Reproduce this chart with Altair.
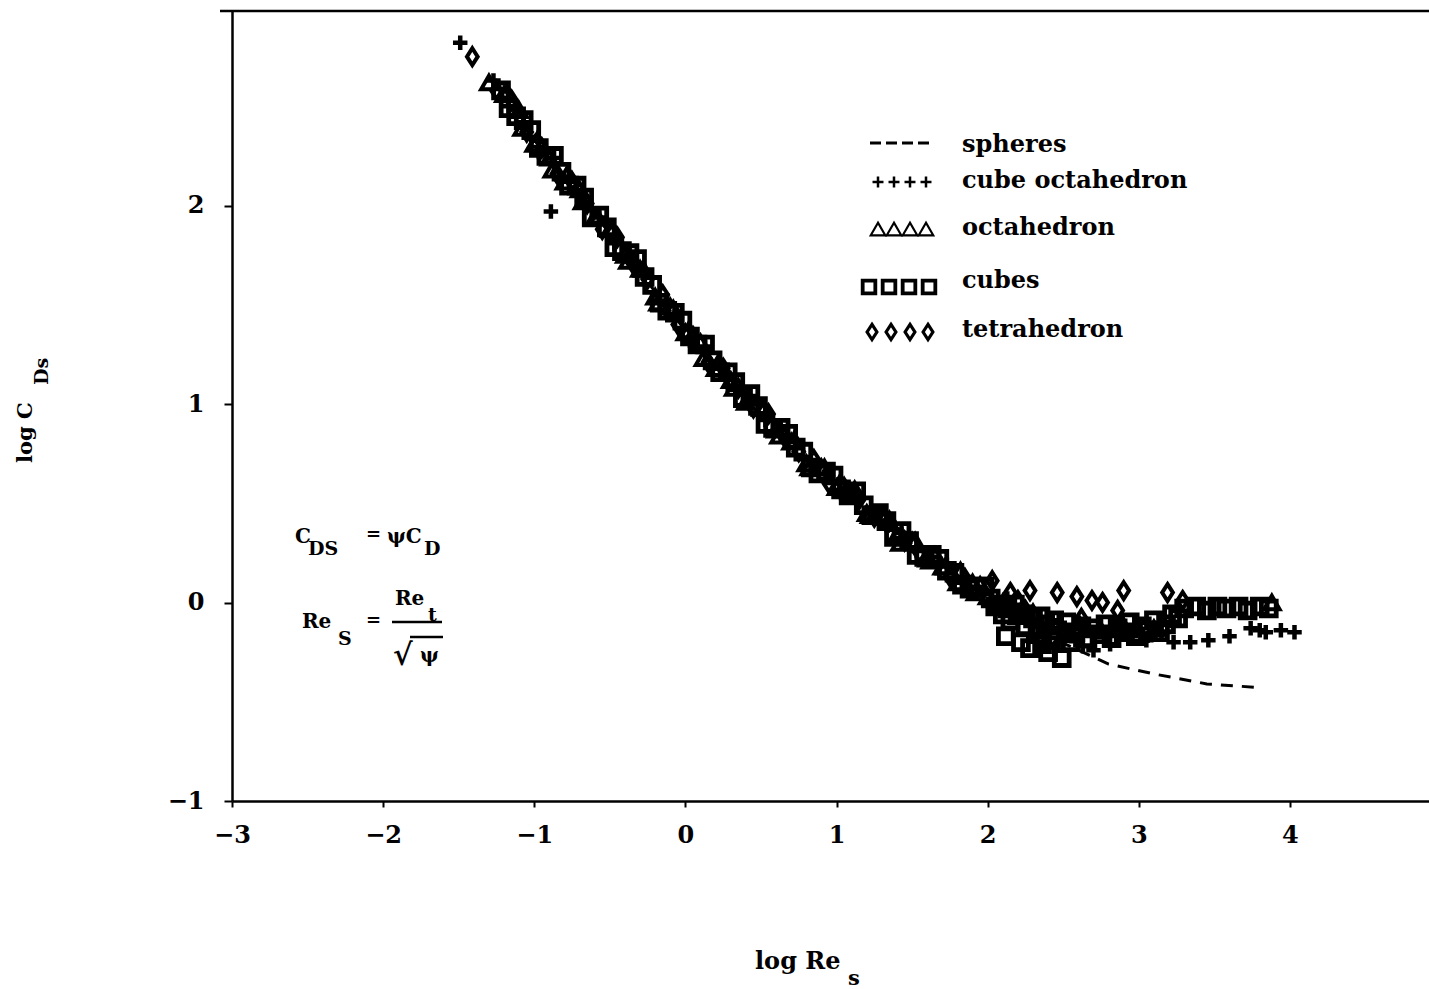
import altair as alt
import pandas as pd

FONT = "DejaVu Serif"

# log Re_s vs log C_Ds for each particle shape
cubeoct_x = [-1.49, -1.27, -1.17, -1.07, -0.97, -0.89, -0.87, -0.77, -0.67, -0.57,
             -0.47, -0.37, -0.27, -0.17, -0.07, 0.03, 0.13, 0.23, 0.33, 0.43,
             0.53, 0.63, 0.73, 0.83, 0.93, 1.03, 1.13, 1.23, 1.33, 1.43,
             1.53, 1.63, 1.73, 1.83, 1.93, 2.03, 2.13, 2.23, 2.33, 2.43,
             2.30, 2.38, 2.47, 2.58,
             2.55, 2.63, 2.70, 2.81, 2.95, 3.05, 3.15, 3.23, 3.34, 3.46,
             3.60, 3.74, 3.80, 3.84, 3.94, 4.03]
cubeoct_y = [2.82, 2.63, 2.50, 2.42, 2.27, 1.97, 2.24, 2.12, 2.02, 1.94,
             1.81, 1.75, 1.67, 1.52, 1.45, 1.32, 1.29, 1.18, 1.09, 1.04,
             0.92, 0.87, 0.81, 0.69, 0.65, 0.55, 0.55, 0.46, 0.39, 0.35,
             0.26, 0.23, 0.19, 0.10, 0.08, 0.00, 0.02, -0.05, -0.09, -0.09,
             -0.16, -0.20, -0.13, -0.19,
             -0.17, -0.22, -0.24, -0.21, -0.17, -0.19, -0.16, -0.20, -0.20, -0.19,
             -0.17, -0.13, -0.14, -0.15, -0.14, -0.15]

octa_x = [-1.30, -1.20, -1.10, -1.00, -0.90, -0.80, -0.70, -0.60, -0.50, -0.40,
          -0.30, -0.20, -0.10, 0.00, 0.10, 0.20, 0.30, 0.40, 0.50, 0.60,
          0.70, 0.80, 0.90, 1.00, 1.10, 1.20, 1.30, 1.40, 1.50, 1.60,
          1.70, 1.80, 1.90, 2.00, 2.10, 2.20, 2.30,
          -1.18, -1.08, -0.98, -0.88, -0.78, -0.68, -0.58, -0.48, -0.38, -0.28,
          -0.18, -0.08, 0.02, 0.12, 0.22, 0.32, 0.42, 0.52, 0.62, 0.72,
          0.82, 0.92, 1.02, 1.12, 1.22, 1.32, 1.42, 1.52, 1.62, 1.72,
          1.82, 1.92,
          2.40, 2.50, 2.60, 2.75, 2.90, 3.00, 3.10, 3.88]
octa_y = [2.62, 2.56, 2.48, 2.31, 2.24, 2.12, 2.08, 1.94, 1.88, 1.75,
          1.68, 1.54, 1.49, 1.36, 1.31, 1.18, 1.12, 1.01, 0.98, 0.87,
          0.81, 0.70, 0.68, 0.58, 0.54, 0.45, 0.44, 0.34, 0.31, 0.22,
          0.18, 0.10, 0.10, 0.03, 0.00, -0.07, -0.05,
          2.57, 2.39, 2.33, 2.18, 2.16, 2.02, 1.94, 1.88, 1.72, 1.68,
          1.51, 1.48, 1.37, 1.23, 1.21, 1.08, 1.03, 0.98, 0.84, 0.82,
          0.68, 0.68, 0.60, 0.57, 0.44, 0.43, 0.30, 0.31, 0.21, 0.18,
          0.16, 0.05,
          -0.12, -0.16, -0.10, -0.14, -0.12, -0.16, -0.13, 0.00]

cube_x = [-1.22, -1.12, -1.02, -0.92, -0.82, -0.72, -0.62, -0.52, -0.42, -0.32,
          -0.22, -0.12, -0.02, 0.08, 0.18, 0.28, 0.38, 0.48, 0.58, 0.68,
          0.78, 0.88, 0.98, 1.08, 1.18, 1.28, 1.38, 1.48, 1.58, 1.68,
          1.78, 1.88, 1.98,
          -1.17, -1.07, -0.97, -0.87, -0.77, -0.67, -0.57, -0.47, -0.37, -0.27,
          -0.17, -0.07, 0.03, 0.13, 0.23, 0.33, 0.43, 0.53, 0.63, 0.73,
          0.83, 0.93, 1.03, 1.13, 1.23, 1.33, 1.43, 1.53, 1.63, 1.73,
          1.83, 1.93,
          2.02, 2.07, 2.13, 2.18, 2.24, 2.35, 2.44,
          2.05, 2.10, 2.12, 2.15, 2.20, 2.22, 2.25, 2.28, 2.30, 2.33,
          2.36, 2.38, 2.40, 2.42, 2.46, 2.49, 2.52, 2.55, 2.58, 2.62,
          2.66, 2.70, 2.74, 2.78, 2.82, 2.86, 2.90, 2.94, 2.98, 3.02,
          3.06, 3.10, 3.14, 3.18, 3.22, 3.26, 3.30, 3.38, 3.45, 3.52,
          3.58, 3.66, 3.72, 3.80, 3.86]
cube_y = [2.58, 2.45, 2.38, 2.25, 2.17, 2.10, 1.94, 1.89, 1.77, 1.73,
          1.60, 1.47, 1.42, 1.30, 1.22, 1.16, 1.03, 0.99, 0.88, 0.85,
          0.76, 0.65, 0.64, 0.54, 0.49, 0.45, 0.33, 0.31, 0.23, 0.22,
          0.15, 0.07, 0.08,
          2.49, 2.43, 2.29, 2.25, 2.10, 2.04, 1.95, 1.79, 1.76, 1.64,
          1.51, 1.46, 1.34, 1.30, 1.16, 1.11, 1.05, 0.90, 0.88, 0.78,
          0.68, 0.66, 0.57, 0.56, 0.44, 0.41, 0.36, 0.24, 0.24, 0.16,
          0.09, 0.08,
          0.02, -0.01, -0.03, -0.01, -0.06, -0.07, -0.09,
          -0.02, -0.06, -0.17, -0.09, -0.05, -0.20, -0.12, -0.23, -0.08, -0.16,
          -0.21, -0.11, -0.25, -0.19, -0.14, -0.28, -0.10, -0.20, -0.15, -0.12,
          -0.18, -0.13, -0.16, -0.11, -0.18, -0.13, -0.15, -0.10, -0.17, -0.12,
          -0.14, -0.09, -0.15, -0.11, -0.06, -0.08, -0.03, -0.02, -0.04, -0.02,
          -0.03, -0.02, -0.04, -0.02, -0.03]

tetra_x = [-1.41, -1.25, -1.15, -1.05, -0.95, -0.85, -0.75, -0.65, -0.55, -0.45,
           -0.35, -0.25, -0.15, -0.05, 0.05, 0.15, 0.25, 0.35, 0.45, 0.55,
           0.65, 0.75, 0.85, 0.95, 1.05, 1.15, 1.25, 1.35, 1.45, 1.55,
           1.65, 1.75, 1.85, 1.95,
           2.03, 2.15, 2.20, 2.25, 2.28, 2.46, 2.59, 2.62, 2.69, 2.76, 2.86, 2.90,
           3.19, 3.29]
tetra_y = [2.75, 2.58, 2.53, 2.37, 2.29, 2.16, 2.12, 2.01, 1.88, 1.84,
           1.71, 1.63, 1.55, 1.40, 1.34, 1.21, 1.18, 1.08, 0.98, 0.95,
           0.84, 0.76, 0.72, 0.60, 0.58, 0.52, 0.43, 0.41, 0.31, 0.25,
           0.23, 0.13, 0.12, 0.08,
           0.11, 0.05, 0.01, -0.04, 0.06, 0.05, 0.03, -0.08, 0.01, 0.00, -0.04, 0.06,
           0.05, 0.01]

sphere_x = [-1.25, -1.0, -0.5, 0.0, 0.5, 1.0, 1.5, 2.0, 2.4, 2.8, 3.1, 3.45, 3.82]
sphere_y = [2.60, 2.33, 1.86, 1.37, 0.96, 0.60, 0.29, 0.03, -0.17, -0.31, -0.36, -0.41, -0.43]

x_ticks = [-3, -2, -1, 0, 1, 2, 3, 4]
y_ticks = [-1, 0, 1, 2]

legend_labels = ["spheres", "cube octahedron", "octahedron", "cubes", "tetrahedron"]

W, H = 1197, 790

PLUS = "M-1,0H1M0,-1V1"
DIAMOND = "M0,-1.25L0.8,0L0,1.25L-0.8,0Z"

xs = alt.Scale(domain=[-3, 4.92], nice=False, zero=False)
ys = alt.Scale(domain=[-1, 2.98], nice=False, zero=False)

x_axis = alt.Axis(values=x_ticks, format="d", title=None, grid=False, domainColor="black",
                  domainWidth=2.5, tickColor="black", tickWidth=2, tickSize=6,
                  labelFont=FONT, labelFontSize=24, labelFontWeight="bold",
                  labelColor="black", labelPadding=16, labelFlush=False,
                  labelOverlap=False)
y_axis = alt.Axis(values=y_ticks, format="d", title=None, grid=False, domainColor="black",
                  domainWidth=2.5, tickColor="black", tickWidth=2, tickSize=8,
                  labelFont=FONT, labelFontSize=24, labelFontWeight="bold",
                  labelColor="black", labelPadding=20, labelFlush=False,
                  labelOverlap=False)


def frame(xv, yv):
    return pd.DataFrame({"x": xv, "y": yv})


spheres = alt.Chart(frame(sphere_x, sphere_y)).mark_line(
    color="black", strokeWidth=3, strokeDash=[12, 9]
).encode(
    x=alt.X("x:Q", scale=xs, axis=x_axis),
    y=alt.Y("y:Q", scale=ys, axis=y_axis),
)


def scatter(xv, yv, shape, size, sw):
    return alt.Chart(frame(xv, yv)).mark_point(
        shape=shape, filled=False, size=size, strokeWidth=sw,
        color="black", opacity=1
    ).encode(x=alt.X("x:Q", scale=xs), y=alt.Y("y:Q", scale=ys))


octa = scatter(octa_x, octa_y, "triangle-up", 240, 4.0)
tetra = scatter(tetra_x, tetra_y, DIAMOND, 180, 4.0)
cubes = scatter(cube_x, cube_y, "square", 220, 4.8)
cubeoct = scatter(cubeoct_x, cubeoct_y, PLUS, 210, 4.5)

# legend key symbols, in pixel coordinates of the plot area
key_rows = [
    ([646, 662, 678, 694], 171, PLUS, 120, 2.5),
    ([646, 662, 678, 694], 218, "triangle-up", 210, 2.2),
    ([637, 657, 677, 697], 276, "square", 160, 3.8),
    ([640, 659, 678, 696], 321, DIAMOND, 150, 3.2),
]
key_layers = []
for kx, ky, shp, sz, sw in key_rows:
    key_layers.append(
        alt.Chart(pd.DataFrame({"px": kx, "py": [ky] * len(kx)})).mark_point(
            shape=shp, filled=False, size=sz, strokeWidth=sw, color="black", opacity=1
        ).encode(x=alt.X("px:Q", scale=None), y=alt.Y("py:Q", scale=None))
    )

# straight strokes: top frame line, fraction bar, radical bar
rules = pd.DataFrame({
    "x1": [-12, 160, 178],
    "x2": [W, 210, 211],
    "yy": [0, 611, 626],
})
rule_layer = alt.Chart(rules).mark_rule(color="black", strokeWidth=2.5).encode(
    x=alt.X("x1:Q", scale=None), x2="x2:Q", y=alt.Y("yy:Q", scale=None)
)
dash_key = alt.Chart(pd.DataFrame({"x1": [638], "x2": [700], "yy": [132]})).mark_rule(
    color="black", strokeWidth=3, strokeDash=[11, 5]
).encode(x=alt.X("x1:Q", scale=None), x2="x2:Q", y=alt.Y("yy:Q", scale=None))

# all text: legend labels, formulas and axis titles with subscripts
texts = pd.DataFrame({
    "t": legend_labels + [
        "C", "DS", "=", "\u03c8C", "D",
        "Re", "S", "=", "Re", "t", "\u221a", "\u03c8",
        "log Re", "s", "log C", "Ds",
    ],
    "px": [730, 730, 730, 730, 730,
           63, 76, 134, 155, 192,
           70, 106, 134, 163, 196, 161, 188,
           523, 616, -200, -184],
    "py": [141, 177, 224, 277, 326,
           532, 544, 529, 532, 544,
           617, 634, 615, 594, 610, 654, 651,
           958, 974, 452, 374],
    "fs": [24, 24, 24, 24, 24,
           20, 19, 18, 20, 19,
           20, 19, 18, 20, 19, 30, 20,
           24, 21, 21, 19],
    "ang": [0, 0, 0, 0, 0,
            0, 0, 0, 0, 0,
            0, 0, 0, 0, 0, 0, 0,
            0, 0, 270, 270],
})
text_layer = alt.Chart(texts).mark_text(
    align="left", baseline="alphabetic", font=FONT, fontWeight="bold", color="black"
).encode(
    x=alt.X("px:Q", scale=None),
    y=alt.Y("py:Q", scale=None),
    text="t:N",
    size=alt.Size("fs:Q", scale=None),
    angle=alt.Angle("ang:Q", scale=None),
)

chart = alt.layer(
    spheres, octa, tetra, cubes, cubeoct, *key_layers, rule_layer, dash_key, text_layer
).properties(
    width=W, height=H,
    padding={"left": 232, "top": 11, "right": 0, "bottom": 188},
    autosize="none",
    background="white",
).configure_view(stroke=None)

chart.save("out.html", embed_options={"renderer": "svg", "actions": False})
